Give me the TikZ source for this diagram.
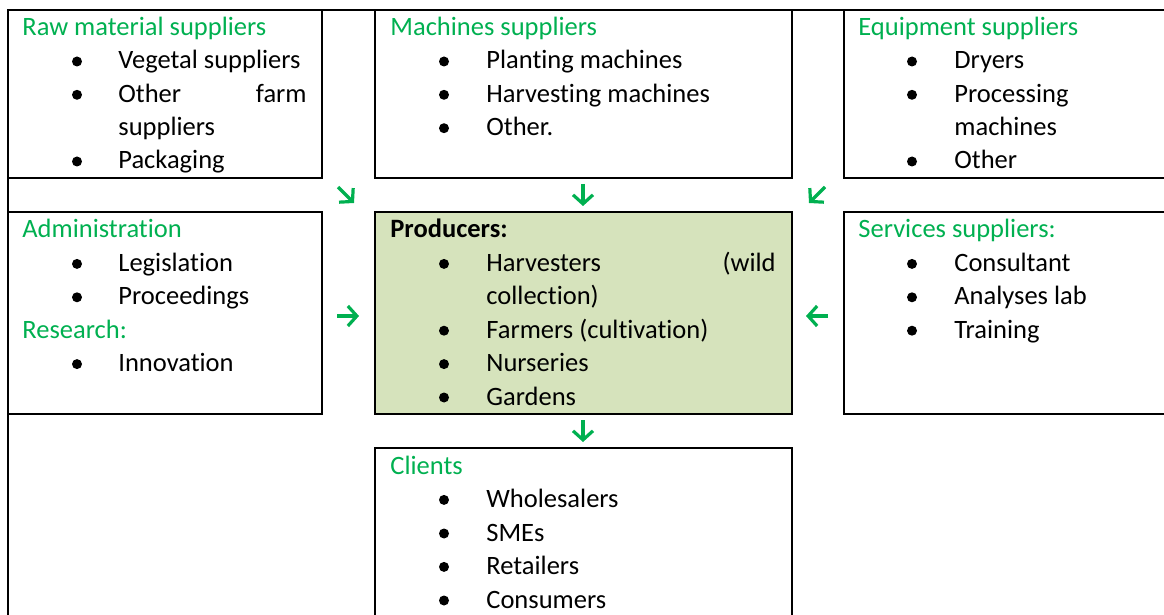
\documentclass[tikz,border=0pt]{standalone}
\usepackage{fontspec}
\setmainfont{Carlito}[Ligatures=NoCommon]
\usetikzlibrary{arrows.meta}
\definecolor{hgreen}{HTML}{00B050}
\definecolor{prodfill}{HTML}{D6E3BC}

% one bulleted list: name prefix, bullet x, text x, entries bullet/baseline/text
\newcommand\itemlist[4]{%
  \foreach \b/\y/\t [count=\i] in {#4}{%
    \node[item] (#1-\i) at (#3,\y) {\t};
    \ifnum\b=1 \fill (#2,\y-7.5) circle[radius=2.5pt];\fi
  }}

\begin{document}
\begin{tikzpicture}[x=0.5pt,y=-0.5pt,
  font=\fontsize{13.25}{16.5}\selectfont,
  box/.style={draw=black, line width=1.2pt, rectangle, inner sep=0pt,
              outer sep=0pt, anchor=north west},
  head/.style={anchor=base west, inner sep=0pt, text=hgreen},
  item/.style={anchor=base west, inner sep=0pt, text=black},
  itemr/.style={anchor=base east, inner sep=0pt, text=black},
  flow/.style={draw=hgreen, line width=1.6pt,
               -{Straight Barb[length=4.5pt,width=10pt]}}]
\clip (0,0) rectangle (1164,615);

% outer frame of the table
\node[box, minimum width=596pt, minimum height=330pt] (frame) at (8,10) {};

% boxes
\node[box, minimum width=157pt,   minimum height=84pt]  (raw)   at (8,10) {};
\node[box, minimum width=208.5pt, minimum height=84pt]  (mach)  at (375,10) {};
\node[box, minimum width=190pt,   minimum height=84pt]  (equip) at (844,10) {};
\node[box, minimum width=157pt,   minimum height=101pt] (admin) at (8,212) {};
\node[box, minimum width=208.5pt, minimum height=101pt, fill=prodfill] (prod) at (375,212) {};
\node[box, minimum width=190pt,   minimum height=101pt] (serv)  at (844,212) {};
\node[box, minimum width=208.5pt, minimum height=120pt] (cli)   at (375,448) {};

% raw material suppliers
\node[head] (rawh) at (22,35.5) {Raw material suppliers};
\itemlist{rawi}{77}{118}{1/69/Vegetal suppliers, 1/102.3/Other, 0/135.7/suppliers, 1/169/Packaging}
\node[itemr] (rawf) at (307,102.3) {farm};

% machines suppliers
\node[head] (machh) at (390,35.5) {Machines suppliers};
\itemlist{machi}{444}{486}{1/69/Planting machines, 1/102.3/Harvesting machines, 1/135.7/Other.}

% equipment suppliers
\node[head] (equiph) at (858,35.5) {Equipment suppliers};
\itemlist{equipi}{912}{954}{1/69/Dryers, 1/102.3/Processing, 0/135.7/machines, 1/169/Other}

% administration and research
\node[head] (adminh) at (22,238) {Administration};
\itemlist{admini}{77}{118}{1/271.4/Legislation, 1/304.8/Proceedings}
\node[head] (resh) at (22,338.2) {Research:};
\itemlist{resi}{77}{118}{1/371.6/Innovation}

% producers
\node[item, font=\fontsize{13.25}{16.5}\selectfont\bfseries] (prodh) at (390,238) {Producers:};
\itemlist{prodi}{444}{486}{1/271.4/Harvesters, 0/304.8/collection), 1/338.2/Farmers (cultivation), 1/371.6/Nurseries, 1/405/Gardens}
\node[itemr] (prodw) at (776,271.4) {(wild};

% services suppliers
\node[head] (servh) at (858,238) {Services suppliers:};
\itemlist{servi}{912}{954}{1/271.4/Consultant, 1/304.8/Analyses lab, 1/338.2/Training}

% clients
\node[head] (clih) at (390,474) {Clients};
\itemlist{clii}{444}{486}{1/507.4/Wholesalers, 1/541/SMEs, 1/574.4/Retailers, 1/608/Consumers}

% flows towards the producers and on to the clients
\coordinate (f1a) at (338,187); \coordinate (f1b) at (354,203);
\coordinate (f2a) at (583,184); \coordinate (f2b) at (583,206);
\coordinate (f3a) at (825,187); \coordinate (f3b) at (809,203);
\coordinate (f4a) at (337,316); \coordinate (f4b) at (359,316);
\coordinate (f5a) at (828,316); \coordinate (f5b) at (806,316);
\coordinate (f6a) at (583,420); \coordinate (f6b) at (583,442);
\draw[flow] (f1a) -- (f1b);
\draw[flow] (f2a) -- (f2b);
\draw[flow] (f3a) -- (f3b);
\draw[flow] (f4a) -- (f4b);
\draw[flow] (f5a) -- (f5b);
\draw[flow] (f6a) -- (f6b);
\end{tikzpicture}
\end{document}
